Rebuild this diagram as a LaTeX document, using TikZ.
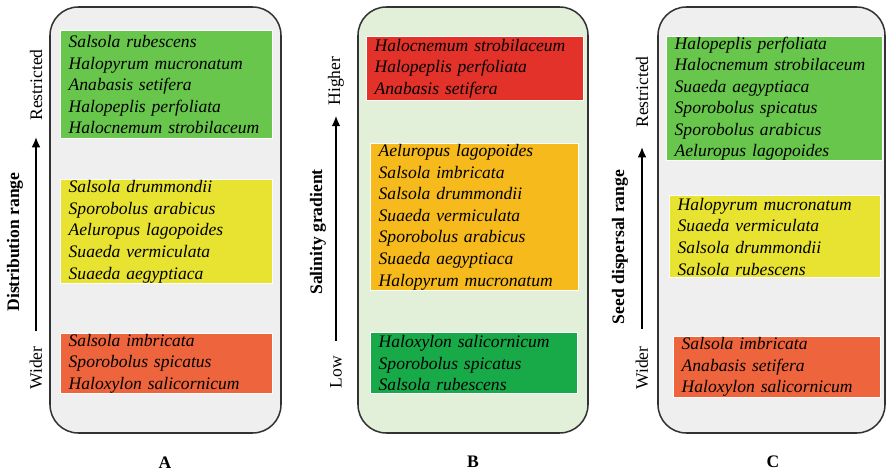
\documentclass[tikz,border=0pt]{standalone}
\usepackage{fontspec}
\setmainfont{Liberation Serif}
\usetikzlibrary{arrows.meta}
\definecolor{panelgray}{RGB}{239,239,239}
\definecolor{panelgreen}{RGB}{226,240,217}
\definecolor{limegreen}{RGB}{104,198,76}
\definecolor{lemon}{RGB}{232,226,48}
\definecolor{coral}{RGB}{238,100,60}
\definecolor{brightred}{RGB}{226,50,42}
\definecolor{amber}{RGB}{246,186,28}
\definecolor{leafgreen}{RGB}{24,170,72}
\begin{document}
\begin{tikzpicture}[x=0.03cm,y=-0.03cm]
\tikzset{panel/.style={draw=black!80, line width=1.3pt, rounded corners=0.85cm},
  spbox/.style={draw=white, line width=1.2pt, anchor=north west, inner xsep=0.24cm, inner ysep=0pt, align=left, font=\itshape\fontsize{15}{18.4}\selectfont},
  axislabel/.style={rotate=90, font=\fontsize{15}{18}\selectfont},
  axistitle/.style={rotate=90, font=\bfseries\fontsize{15}{18}\selectfont},
  axisarrow/.style={line width=2.4pt, -{Latex[length=9pt,width=7.5pt]}},
  panelname/.style={font=\bfseries\fontsize{15}{18}\selectfont}}
\useasboundingbox (0,0) rectangle (887,475);
\draw[panel, fill=panelgray] (50,7) rectangle (281,433);
\draw[panel, fill=panelgreen] (358,7) rectangle (588,433);
\draw[panel, fill=panelgray] (658,7) rectangle (885,433);
\node[spbox, fill=limegreen, text width=5.88cm, minimum height=3.24cm] (a1) at (60,30) {Salsola rubescens\\Halopyrum mucronatum\\Anabasis setifera\\Halopeplis perfoliata\\Halocnemum strobilaceum};
\node[spbox, fill=lemon, text width=5.88cm, minimum height=3.12cm] (a2) at (60,179) {Salsola drummondii\\Sporobolus arabicus\\Aeluropus lagopoides\\Suaeda vermiculata\\Suaeda aegyptiaca};
\node[spbox, fill=coral, text width=5.88cm, minimum height=1.8cm] (a3) at (60,333) {Salsola imbricata\\Sporobolus spicatus\\Haloxylon salicornicum};
\node[spbox, fill=brightred, text width=6.03cm, minimum height=1.92cm] (b1) at (366,36) {Halocnemum strobilaceum\\Halopeplis perfoliata\\Anabasis setifera};
\node[spbox, fill=amber, text width=5.76cm, minimum height=4.41cm] (b2) at (370,143) {Aeluropus lagopoides\\Salsola imbricata\\Salsola drummondii\\Suaeda vermiculata\\Sporobolus arabicus\\Suaeda aegyptiaca\\Halopyrum mucronatum};
\node[spbox, fill=leafgreen, text width=5.73cm, minimum height=1.83cm] (b3) at (370,332) {Haloxylon salicornicum\\Sporobolus spicatus\\Salsola rubescens};
\node[spbox, fill=limegreen, text width=6.0cm, minimum height=3.72cm] (c1) at (666,36) {Halopeplis perfoliata\\Halocnemum strobilaceum\\Suaeda aegyptiaca\\Sporobolus spicatus\\Sporobolus arabicus\\Aeluropus lagopoides};
\node[spbox, fill=lemon, text width=5.85cm, minimum height=2.46cm] (c2) at (669,195) {Halopyrum mucronatum\\Suaeda vermiculata\\Salsola drummondii\\Salsola rubescens};
\node[spbox, fill=coral, text width=5.73cm, minimum height=1.83cm] (c3) at (673,336) {Salsola imbricata\\Anabasis setifera\\Haloxylon salicornicum};
\node[axislabel] (aTop) at (36,85) {Restricted};
\node[axislabel] (aBot) at (36,368) {Wider};
\node[axistitle] (aTitle) at (15,242) {Distribution range};
\draw[axisarrow, shorten <=0.33cm, shorten >=0.36cm] (aBot) -- (aTop);
\node[axislabel] (bTop) at (336,81) {Higher};
\node[axislabel] (bBot) at (336,372) {Low};
\node[axistitle] (bTitle) at (318,232) {Salinity gradient};
\draw[axisarrow, shorten <=0.33cm, shorten >=0.18cm] (bBot) -- (bTop);
\node[axislabel] (cTop) at (642,92) {Restricted};
\node[axislabel] (cBot) at (642,368) {Wider};
\node[axistitle] (cTitle) at (620,247) {Seed dispersal range};
\draw[axisarrow, shorten <=0.39cm, shorten >=0.45cm] (cBot) -- (cTop);
\node[panelname] (nameA) at (165,463) {A};
\node[panelname] (nameB) at (473,462) {B};
\node[panelname] (nameC) at (773,462) {C};
\end{tikzpicture}
\end{document}
